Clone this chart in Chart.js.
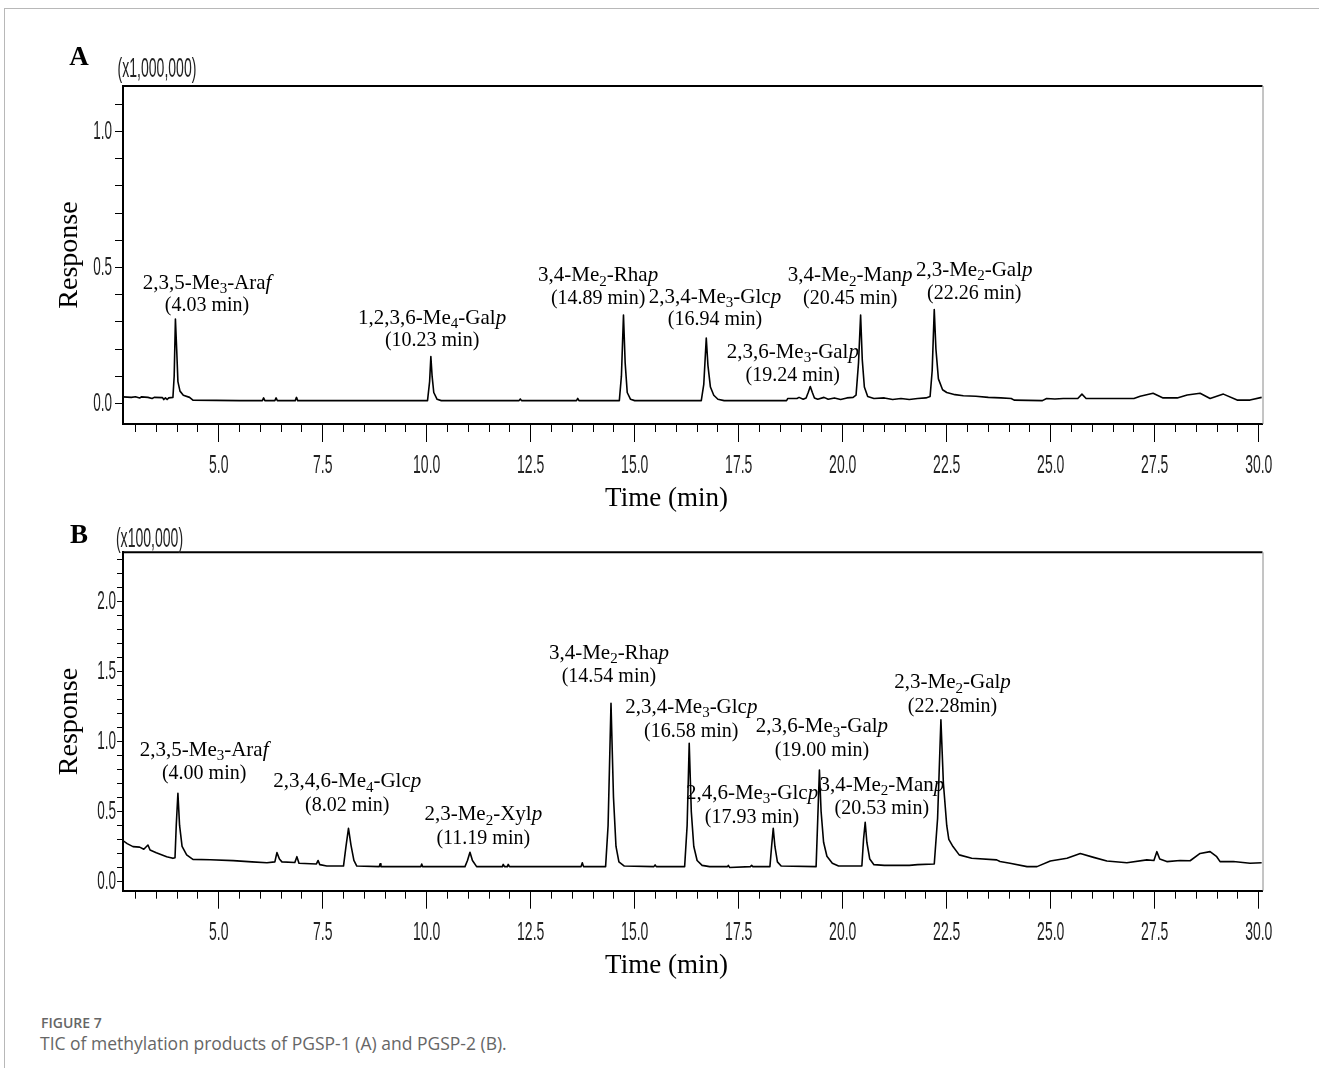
<!DOCTYPE html>
<html>
<head>
<meta charset="utf-8">
<title>TIC of methylation products</title>
<script src="https://cdn.jsdelivr.net/npm/chart.js@4.4.1/dist/chart.umd.min.js"></script>
<style>
body{margin:0;background:#fff;width:1319px;height:1068px;position:relative;overflow:hidden;}
.card{position:absolute;left:4px;top:8px;right:0;bottom:0;border-top:1px solid #b8b8b8;border-left:1px solid #b8b8b8;}
canvas{position:absolute;left:0;}
#chartA{top:0;}
#chartB{top:515px;}
.fig{position:absolute;left:41px;top:1013px;font-family:"Open Sans";font-size:14px;font-weight:600;color:#666;}
.cap{position:absolute;left:40px;top:1031px;font-family:"Open Sans";font-size:17.5px;color:#666;}
</style>
</head>
<body>
<div class="card"></div>
<canvas id="chartA" width="1319" height="515"></canvas>
<canvas id="chartB" width="1319" height="470"></canvas>
<div class="fig">FIGURE 7</div>
<div class="cap">TIC of methylation products of PGSP-1 (A) and PGSP-2 (B).</div>
<script>
// PANEL A  (x1,000,000)

const timesA = [2.70,2.90,3.00,3.10,3.15,3.30,3.40,3.45,3.65,3.68,3.72,3.76,3.80,3.90,3.93,3.96,3.99,4.02,4.07,4.15,4.30,4.38,
5.50,6.05,6.08,6.11,6.35,6.38,6.41,6.84,6.87,6.90,10.02,10.07,10.10,10.13,10.17,10.25,10.35,12.22,12.25,12.28,13.60,13.63,13.66,
14.63,14.68,14.73,14.77,14.82,14.90,15.00,16.60,16.66,16.72,16.76,16.82,16.90,17.00,17.15,18.65,18.68,18.90,18.95,19.05,19.12,
19.17,19.22,19.27,19.32,19.40,19.55,19.65,19.80,19.95,20.10,20.25,20.32,20.38,20.43,20.47,20.52,20.60,20.75,21.00,21.20,21.40,
21.60,21.80,22.00,22.10,22.15,22.20,22.24,22.30,22.40,22.50,22.70,22.90,23.20,23.50,23.80,24.05,24.12,24.80,24.90,25.10,25.30,
25.65,25.75,25.85,27.00,27.15,27.46,27.70,28.04,28.28,28.59,28.83,29.15,29.48,29.79,30.07];
const respA = [0.024,0.022,0.024,0.020,0.024,0.022,0.018,0.022,0.021,0.014,0.020,0.014,0.020,0.022,0.10,0.31,0.20,0.08,0.045,0.030,0.022,0.012,
0.010,0.010,0.020,0.010,0.010,0.020,0.010,0.010,0.022,0.010,0.010,0.08,0.172,0.10,0.04,0.015,0.010,0.010,0.016,0.010,0.010,0.018,0.010,
0.010,0.10,0.325,0.15,0.04,0.015,0.010,0.010,0.07,0.24,0.14,0.06,0.03,0.015,0.010,0.010,0.018,0.018,0.022,0.015,0.020,
0.04,0.062,0.04,0.020,0.015,0.022,0.015,0.020,0.014,0.020,0.022,0.030,0.15,0.325,0.16,0.06,0.025,0.018,0.020,0.014,0.018,
0.014,0.018,0.020,0.025,0.12,0.345,0.20,0.09,0.050,0.040,0.032,0.028,0.026,0.022,0.020,0.018,0.012,0.010,0.018,0.016,0.018,
0.018,0.034,0.018,0.018,0.026,0.037,0.020,0.020,0.031,0.037,0.018,0.034,0.012,0.012,0.022];
const yTicksA = ['0.0','0.5','1.0'];
const peakNamesA = ['2,3,5-Me{3}-Ara[f]','1,2,3,6-Me{4}-Gal[p]','3,4-Me{2}-Rha[p]','2,3,4-Me{3}-Glc[p]','2,3,6-Me{3}-Gal[p]','3,4-Me{2}-Man[p]','2,3-Me{2}-Gal[p]'];
const peakRtA = ['(4.03 min)','(10.23 min)','(14.89 min)','(16.94 min)','(19.24 min)','(20.45 min)','(22.26 min)'];

// PANEL B  (x100,000)

const timesB = [2.68,2.80,2.94,3.10,3.20,3.30,3.35,3.50,3.75,3.85,3.90,3.95,3.98,4.02,4.06,4.12,4.23,4.38,4.80,5.35,5.80,6.16,
6.35,6.40,6.46,6.52,6.83,6.88,6.93,7.35,7.39,7.43,7.60,8.00,8.06,8.12,8.18,8.25,8.32,8.86,8.88,8.90,9.86,9.88,9.90,
10.92,10.98,11.04,11.10,11.20,11.82,11.84,11.87,11.94,11.96,11.99,13.71,13.74,13.77,14.30,14.36,14.43,14.49,14.55,14.62,14.75,
15.46,15.49,15.52,16.20,16.26,16.31,16.36,16.42,16.50,16.62,16.80,17.23,17.25,17.28,17.78,17.81,17.84,18.25,18.29,18.33,18.37,
18.43,18.52,19.36,19.40,19.44,19.48,19.54,19.62,19.75,19.90,20.46,20.50,20.54,20.58,20.65,20.75,21.00,21.60,21.80,22.20,22.28,
22.36,22.42,22.50,22.55,22.65,22.80,23.10,23.70,23.78,24.02,24.43,24.67,24.99,25.39,25.71,26.03,26.35,26.83,27.31,27.48,27.55,
27.62,27.79,28.11,28.35,28.59,28.83,28.99,29.07,29.39,29.79,30.07];
const respB = [0.296,0.270,0.249,0.245,0.230,0.260,0.225,0.205,0.177,0.170,0.165,0.170,0.40,0.63,0.40,0.25,0.19,0.158,0.155,0.149,0.140,0.134,
0.140,0.206,0.160,0.140,0.135,0.177,0.130,0.125,0.150,0.120,0.110,0.110,0.25,0.38,0.26,0.15,0.11,0.106,0.126,0.106,0.106,0.124,0.106,
0.106,0.15,0.208,0.15,0.106,0.106,0.122,0.106,0.106,0.122,0.106,0.106,0.134,0.106,0.106,0.40,1.273,0.60,0.25,0.14,0.110,
0.106,0.118,0.106,0.106,0.40,0.987,0.50,0.25,0.15,0.115,0.106,0.106,0.115,0.100,0.106,0.115,0.106,0.106,0.25,0.38,0.25,
0.14,0.11,0.106,0.45,0.796,0.50,0.28,0.18,0.13,0.11,0.11,0.30,0.423,0.28,0.16,0.12,0.115,0.115,0.12,0.125,0.45,
1.154,0.70,0.40,0.30,0.249,0.19,0.166,0.154,0.142,0.130,0.106,0.106,0.146,0.166,0.200,0.172,0.146,0.134,0.154,0.150,0.213,
0.160,0.142,0.150,0.148,0.200,0.213,0.177,0.142,0.142,0.130,0.134];
const yTicksB = ['0.0','0.5','1.0','1.5','2.0'];
const peakNamesB = ['2,3,5-Me{3}-Ara[f]','2,3,4,6-Me{4}-Glc[p]','2,3-Me{2}-Xyl[p]','3,4-Me{2}-Rha[p]','2,3,4-Me{3}-Glc[p]','2,4,6-Me{3}-Glc[p]','2,3,6-Me{3}-Gal[p]','3,4-Me{2}-Man[p]','2,3-Me{2}-Gal[p]'];
const peakRtB = ['(4.00 min)','(8.02 min)','(11.19 min)','(14.54 min)','(16.58 min)','(17.93 min)','(19.00 min)','(20.53 min)','(22.28min)'];

// shared time axis labels
const xTicks = ['5.0','7.5','10.0','12.5','15.0','17.5','20.0','22.5','25.0','27.5','30.0'];

// where the peak names sit (time, response)
const labelPosA = [[4.72,0.443],[10.13,0.314],[14.12,0.469],[16.93,0.391],[18.80,0.187],[20.18,0.469],[23.16,0.489]];
const labelPosB = [[4.65,0.939],[8.09,0.713],[11.36,0.475],[14.38,1.630],[16.36,1.244],[17.82,0.630],[19.50,1.106],[20.94,0.689],[22.64,1.420]];

const SERIF = '"Liberation Serif", "Times New Roman", serif';

// narrow instrument-style digits
function narrow(ctx, s, x, y, align, size, sx){
ctx.save();
ctx.font = size + 'px "Liberation Sans"';
ctx.textAlign = align;
ctx.textBaseline = 'middle';
ctx.translate(x, y);
ctx.scale(sx, 1);
ctx.fillText(s, 0, 0);
ctx.restore();
}

// "{3}" = subscript, "[p]" = italic
function parts(s){
let out = [];
s.replace(/\{(.*?)\}|\[(.*?)\]|([^{\[]+)/g, function(m, sub, it, txt){
if(sub) out.push({t:sub, f:'15px ' + SERIF, dy:6});
else if(it) out.push({t:it, f:'italic 21px ' + SERIF, dy:0});
else out.push({t:txt, f:'21px ' + SERIF, dy:0});
});
return out;
}

function richText(ctx, s, cx, y){
let ps = parts(s);
let w = 0;
ps.forEach(function(p){ ctx.font = p.f; p.w = ctx.measureText(p.t).width; w += p.w; });
let x = cx - w / 2;
ctx.textAlign = 'left';
ps.forEach(function(p){ ctx.font = p.f; ctx.fillText(p.t, x, y + p.dy); x += p.w; });
}

const decor = {
id: 'decor',
afterDraw(chart, args, o){
const ctx = chart.ctx;
const a = chart.chartArea;
const xs = chart.scales.x, ys = chart.scales.y;
ctx.save();

// top and right edge of the frame
ctx.strokeStyle = '#000';
ctx.lineWidth = 2;
ctx.beginPath(); ctx.moveTo(a.left, a.top); ctx.lineTo(a.right, a.top); ctx.stroke();
ctx.strokeStyle = '#8a8a8a';
ctx.lineWidth = 1;
ctx.beginPath(); ctx.moveTo(a.right + 0.5, a.top); ctx.lineTo(a.right + 0.5, a.bottom); ctx.stroke();

// tick labels
ctx.fillStyle = '#222';
xTicks.forEach(function(l){ narrow(ctx, l, xs.getPixelForValue(Number(l)), a.bottom + 42.5, 'center', 25, 0.56); });
o.yLabels.forEach(function(l){ narrow(ctx, l, a.left - o.yGap, ys.getPixelForValue(Number(l)), 'right', 26, 0.52); });
narrow(ctx, o.unit, o.unitX, o.unitY, 'center', 27, 0.52);

// panel letter and x title
ctx.fillStyle = '#000';
ctx.textBaseline = 'middle';
ctx.textAlign = 'center';
ctx.font = 'bold 27px ' + SERIF;
ctx.fillText(o.letter, 79, o.letterY);
ctx.font = '27px ' + SERIF;
ctx.fillText('Time (min)', a.left + 543.5, a.bottom + 75);

// peak names
o.names.forEach(function(n, i){
let px = xs.getPixelForValue(o.pos[i][0]);
let py = ys.getPixelForValue(o.pos[i][1]);
richText(ctx, n, px, py);
ctx.font = '20px ' + SERIF;
ctx.textAlign = 'center';
ctx.fillText(o.rts[i], px, py + o.gap);
});

ctx.restore();
}
};

function panel(id, times, resp, yMin, yMax, lay, extra){
return new Chart(document.getElementById(id), {
type: 'line',
data: {
datasets: [{
data: times.map(function(t, i){ return {x: t, y: resp[i]}; }),
xAxisID: 'x',
borderColor: '#000',
borderWidth: 1.6,
borderJoinStyle: 'round',
pointRadius: 0,
tension: 0,
fill: false
}]
},
options: {
responsive: false,
animation: false,
devicePixelRatio: 1,
layout: {padding: {left: 0, top: lay.top, right: 56.5, bottom: 0}},
plugins: {legend: {display: false}, tooltip: {enabled: false}, decor: extra},
scales: {
x: {
type: 'linear', position: 'bottom', weight: 1, min: 2.7, max: 30.09,
ticks: {display: false, stepSize: 2.5, includeBounds: false, autoSkip: false},
grid: {drawOnChartArea: false, tickLength: 18, color: '#000'},
border: {color: '#000', width: 2},
afterFit: function(s){ s.height = lay.xh; }
},
x2: {
type: 'linear', position: 'bottom', weight: 0, min: 2.7, max: 30.09,
ticks: {display: false, stepSize: 0.5, includeBounds: false, autoSkip: false},
grid: {drawOnChartArea: false, tickLength: 8, color: '#000'},
border: {display: false},
afterFit: function(s){ s.height = 0; }
},
y: {
type: 'linear', min: yMin, max: yMax,
ticks: {display: false, stepSize: 0.1, includeBounds: false},
grid: {drawOnChartArea: false, tickLength: lay.tick, color: '#000'},
border: {color: '#000', width: 2},
title: {display: true, text: 'Response', color: '#000', font: {family: SERIF, size: 28}, padding: {top: 53, bottom: 0}},
afterFit: function(s){ s.width = 123; }
}
}
},
plugins: [decor]
});
}

// CHART A

panel('chartA', timesA, respA, -0.076, 1.168,
{top: 86, xh: 91, tick: 8},
{letter: 'A', letterY: 58.5, unit: '(x1,000,000)', unitX: 157, unitY: 69.5, yLabels: yTicksA, yGap: 11,
names: peakNamesA, rts: peakRtA, pos: labelPosA, gap: 23});

// CHART B

panel('chartB', timesB, respB, -0.066, 2.351,
{top: 37.3, xh: 94.3, tick: 6},
{letter: 'B', letterY: 21.5, unit: '(x100,000)', unitX: 149.5, unitY: 25, yLabels: yTicksB, yGap: 7,
names: peakNamesB, rts: peakRtB, pos: labelPosB, gap: 24});
</script>
</body>
</html>
